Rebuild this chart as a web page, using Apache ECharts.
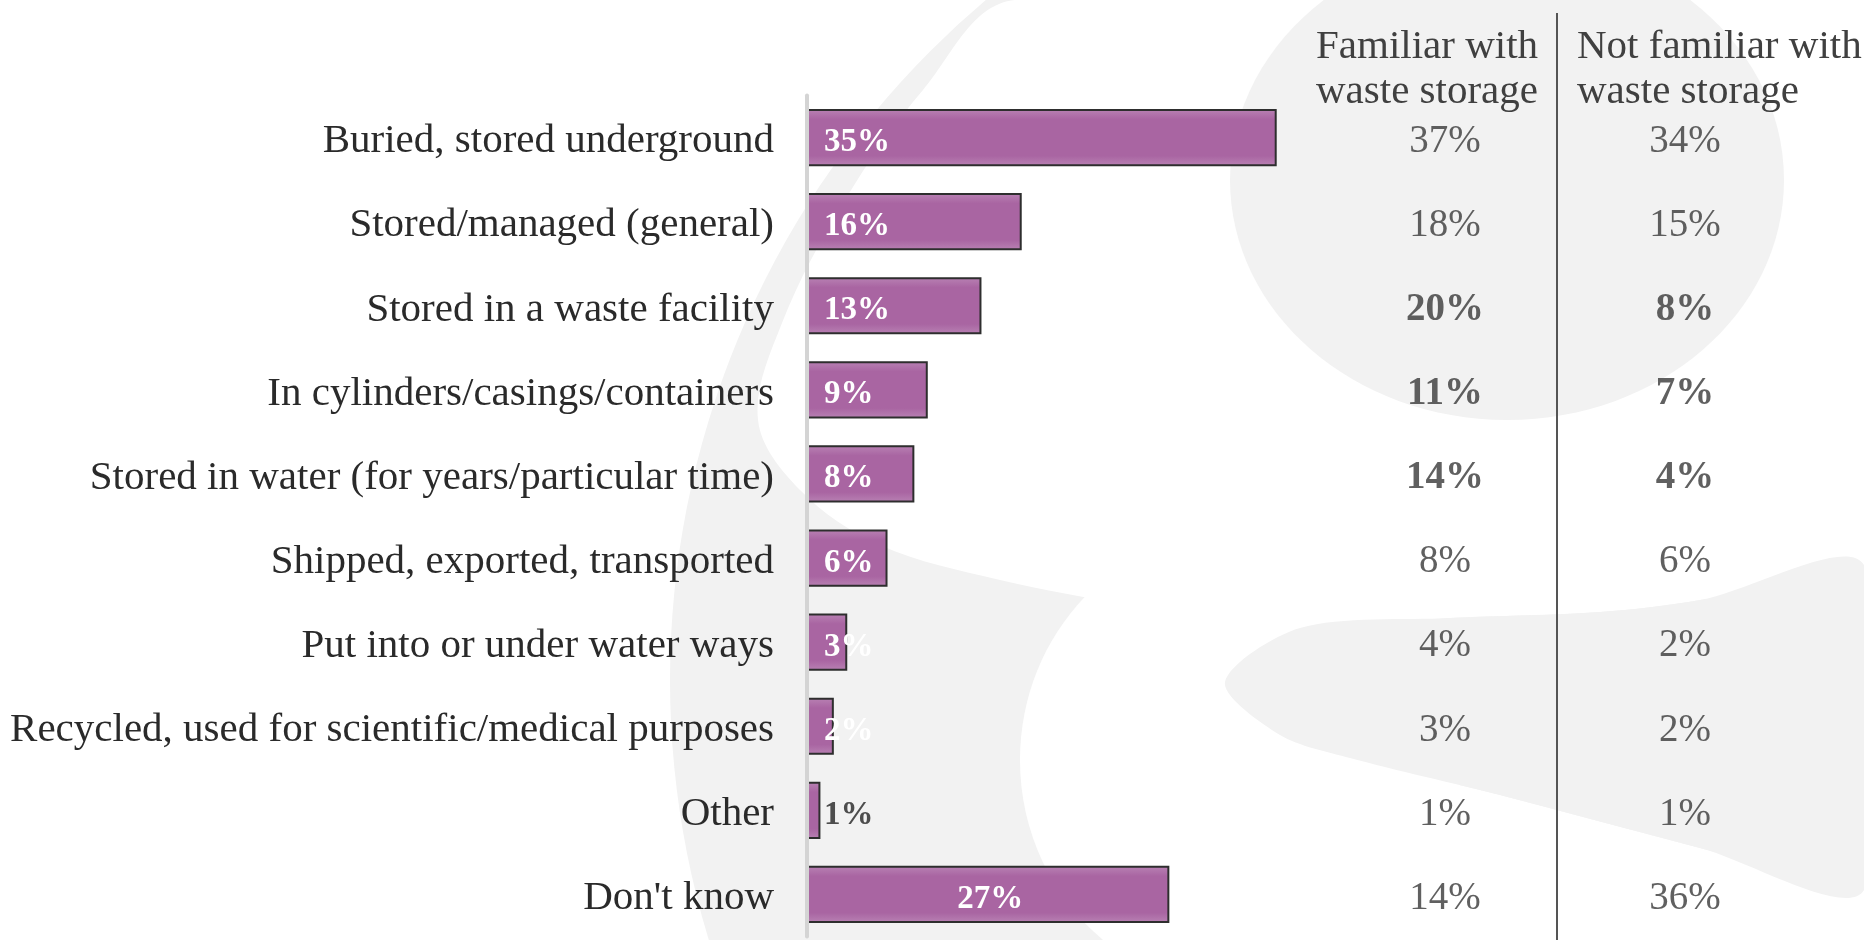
<!DOCTYPE html>
<html><head><meta charset="utf-8">
<script src="https://cdn.jsdelivr.net/npm/echarts@6/dist/echarts.min.js"></script>
<style>html,body{margin:0;padding:0;background:#fff}#c{width:1864px;height:940px}</style>
</head><body><div id="c"></div>
<script>
const categories = ['Buried, stored underground','Stored/managed (general)','Stored in a waste facility','In cylinders/casings/containers','Stored in water (for years/particular time)','Shipped, exported, transported','Put into or under water ways','Recycled, used for scientific/medical purposes','Other',"Don't know"];
const totalValues = [35,16,13,9,8,6,3,2,1,27];
const familiarValues = [37,18,20,11,14,8,4,3,1,14];
const notFamiliarValues = [34,15,8,7,4,6,2,2,1,36];
const significantRows = [false,false,true,true,true,false,false,false,false,false];
const columnKeys = ['Familiar','Not familiar'];
const columnHeaders = ['Familiar with\nwaste storage','Not familiar with\nwaste storage'];

const FONT = '"Liberation Serif", "DejaVu Serif", serif';
const chart = echarts.init(document.getElementById('c'));

const barGradient = new echarts.graphic.LinearGradient(0,0,0,1,[
  {offset:0,color:'#b982b4'},{offset:0.18,color:'#a965a2'},
  {offset:0.82,color:'#a965a2'},{offset:1,color:'#b982b4'}]);

const barData = totalValues.map((v,i)=>{
  const item = {value:v};
  if (i === totalValues.length-1) item.label = {position:'inside'};
  if (categories[i] === 'Other') item.label = {color:'#4d4d4d'};
  return item;
});

function tableSeries(values, col){
  return {
    type:'scatter', xAxisIndex:1, yAxisIndex:1, symbolSize:1,
    itemStyle:{color:'rgba(0,0,0,0)'}, silent:true,
    data: values.map((v,i)=>({value:[col,i], raw:v,
      label:{fontWeight: significantRows[i] ? 'bold' : 'normal'}})),
    label:{show:true, position:'inside', offset:[0,4],
      formatter:p=>p.data.raw+'%', fontFamily:FONT, fontSize:39, color:'#383838'}
  };
}

const bg = '#f2f2f2';
chart.setOption({
  animation:false,
  backgroundColor:'#ffffff',
  grid:[
    {left:807, top:95.5, width:1046.8, height:841},
    {left:1325, top:95.5, width:480, height:841}
  ],
  xAxis:[
    {type:'value', min:0, max:78, show:false, gridIndex:0},
    {type:'category', data:columnKeys, show:false, gridIndex:1}
  ],
  yAxis:[
    {type:'category', data:categories, inverse:true, gridIndex:0, z:5,
     axisLine:{show:true, lineStyle:{color:'#d4d4d4', width:4}},
     axisTick:{show:false},
     axisLabel:{margin:33, formatter:v=>'{a|'+v+'}',
       rich:{a:{fontFamily:FONT, fontSize:41, color:'#2a2a2a', lineHeight:49, verticalAlign:'bottom'}}}},
    {type:'category', data:categories, inverse:true, gridIndex:1, show:false}
  ],
  series:[
    {type:'bar', data:barData, barWidth:'68%',
     itemStyle:{color:barGradient, borderColor:'#2e2e2e', borderWidth:2},
     label:{show:true, position:'insideLeft', distance:15, offset:[2,5], formatter:'{c}%',
       fontFamily:FONT, fontSize:33, fontWeight:'bold', color:'#ffffff'}},
    tableSeries(familiarValues,0),
    tableSeries(notFamiliarValues,1)
  ],
  graphic:[
    {type:'circle', z:-10, shape:{cx:1560, cy:680, r:890}, style:{fill:bg}, silent:true},
    {type:'polygon', z:-9, silent:true, shape:{smooth:0.35, points:[
      [1015,0],[923,90],[845,200],[782,323],[758,420],[800,490],[880,545],[1000,580],[1130,605],
      [1273,628],[1450,618],[1600,612],[1700,600],[1864,565],[1864,0]]}, style:{fill:'#ffffff'}},
    {type:'ellipse', z:-8, silent:true, shape:{cx:1507, cy:180, rx:277, ry:240}, style:{fill:bg}},
    {type:'ellipse', z:-7, silent:true, shape:{cx:1240, cy:760, rx:220, ry:230}, style:{fill:'#ffffff'}},
    {type:'polygon', z:-6, silent:true, shape:{points:[
      [1864,890],[1864,940],[1200,940],[1200,735],[1350,758],[1500,795],[1700,848]]}, style:{fill:'#ffffff'}},
    {type:'polygon', z:-5, silent:true, shape:{smooth:0.3, points:[
      [1225,682],[1300,628],[1450,618],[1600,612],[1700,600],[1864,565],
      [1864,890],[1700,848],[1500,795],[1350,758],[1280,735]]}, style:{fill:bg}},
    {type:'line', z:10, silent:true, shape:{x1:1557, y1:13, x2:1557, y2:940},
     style:{stroke:'#555555', lineWidth:2}},
    {type:'text', z:10, silent:true, x:1316, y:25,
     style:{text:columnHeaders[0], font:'41px '+FONT, fill:'#404040', lineHeight:45, verticalAlign:'top', align:'left'}},
    {type:'text', z:10, silent:true, x:1577, y:25,
     style:{text:columnHeaders[1], font:'41px '+FONT, fill:'#404040', lineHeight:45, verticalAlign:'top', align:'left'}}
  ]
});
</script></body></html>
